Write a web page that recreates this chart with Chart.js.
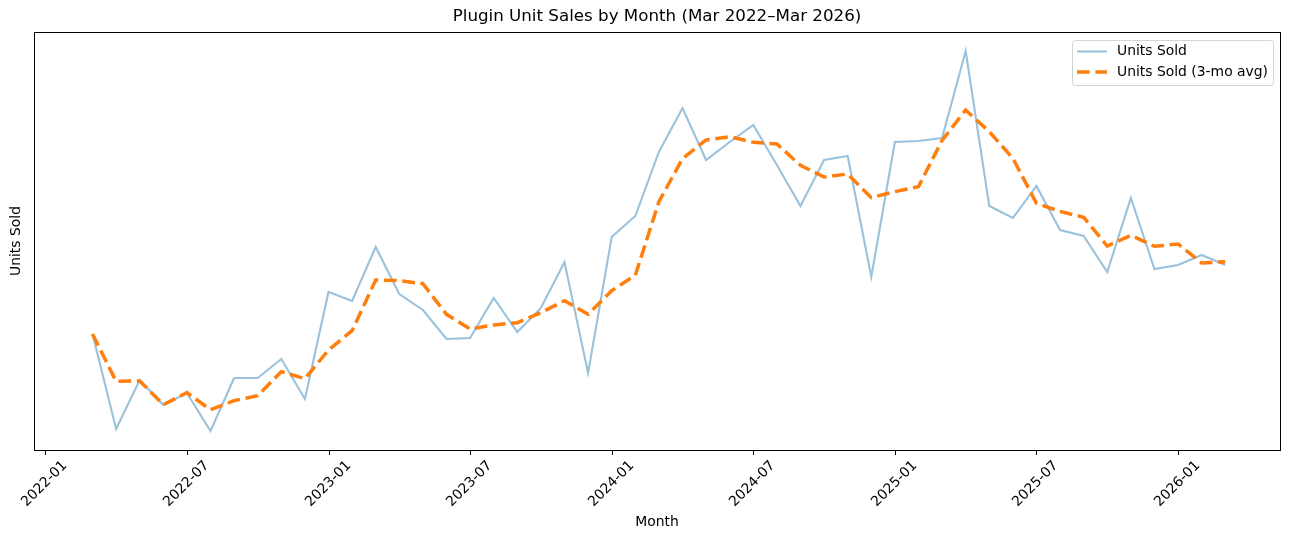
<!DOCTYPE html>
<html>
<head>
<meta charset="utf-8">
<script src="https://cdn.jsdelivr.net/npm/chart.js@4.4.1/dist/chart.umd.min.js"></script>
<style>
  html, body { margin: 0; padding: 0; background: #fff; }
  #wrap { width: 1289px; height: 540px; }
</style>
</head>
<body>
<div id="wrap"><canvas id="chart" width="1289" height="540"></canvas></div>
<script>
// months (one point per month)
var months = [
  '2022-03','2022-04','2022-05','2022-06','2022-07','2022-08','2022-09','2022-10','2022-11','2022-12',
  '2023-01','2023-02','2023-03','2023-04','2023-05','2023-06','2023-07','2023-08','2023-09','2023-10','2023-11','2023-12',
  '2024-01','2024-02','2024-03','2024-04','2024-05','2024-06','2024-07','2024-08','2024-09','2024-10','2024-11','2024-12',
  '2025-01','2025-02','2025-03','2025-04','2025-05','2025-06','2025-07','2025-08','2025-09','2025-10','2025-11','2025-12',
  '2026-01','2026-02','2026-03'
];

// monthly units sold
var unitsSold = [
  598, 313, 460, 385, 421, 307, 466, 466, 523, 403,
  724, 697, 859, 718, 670, 583, 586, 706, 604, 676, 814, 481,
  889, 952, 1144, 1276, 1120, 1174, 1225, 1105, 982, 1120, 1132, 769,
  1174, 1177, 1186, 1447, 982, 946, 1042, 910, 892, 784, 1006, 793,
  805, 835, 805
];

// 3-month average line
var unitsAvg = [
  598, 456, 457, 386, 422, 371, 398, 413, 485, 464,
  550, 608, 760, 758, 749, 657, 613, 625, 632, 662, 698, 657,
  728, 774, 995, 1124, 1180, 1190, 1173, 1168, 1104, 1069, 1078, 1007,
  1025, 1040, 1179, 1270, 1205, 1125, 990, 966, 948, 862, 894, 861,
  868, 811, 815
];

// x tick labels, every 6 months
var tickLabels = ['2022-01','2022-07','2023-01','2023-07','2024-01','2024-07','2025-01','2025-07','2026-01'];

var FONT = '"DejaVu Sans", sans-serif';

// months since 2022-01
function monthIndex(s) {
  var p = s.split('-');
  return (parseInt(p[0], 10) - 2022) * 12 + parseInt(p[1], 10) - 1;
}

function toPoints(vals) {
  return vals.map(function(v, i) { return { x: monthIndex(months[i]), y: v }; });
}

// matplotlib-like decorations: frame, ticks, labels, legend, title
var decor = {
  id: 'decor',
  afterDraw: function(chart) {
    var ctx = chart.ctx;
    var a = chart.chartArea;
    var xs = chart.scales.x;
    ctx.save();

    // frame
    ctx.strokeStyle = '#000';
    ctx.lineWidth = 1;
    ctx.strokeRect(Math.round(a.left) + 0.5, Math.round(a.top) + 0.5,
                   Math.round(a.right - a.left), Math.round(a.bottom - a.top));

    // x ticks + rotated labels
    ctx.fillStyle = '#000';
    ctx.font = '13.9px ' + FONT;
    ctx.textAlign = 'center';
    ctx.textBaseline = 'middle';
    tickLabels.forEach(function(t) {
      var px = Math.round(xs.getPixelForValue(monthIndex(t))) + 0.5;
      ctx.beginPath();
      ctx.moveTo(px, a.bottom);
      ctx.lineTo(px, a.bottom + 5);
      ctx.stroke();
      ctx.save();
      ctx.translate(px - 1, a.bottom + 34);
      ctx.rotate(-Math.PI / 4);
      ctx.fillText(t, 0, 0);
      ctx.restore();
    });

    // axis titles
    ctx.fillText('Month', (a.left + a.right) / 2, 522);
    ctx.save();
    ctx.translate(16, (a.top + a.bottom) / 2);
    ctx.rotate(-Math.PI / 2);
    ctx.fillText('Units Sold', 0, 0);
    ctx.restore();

    // title
    ctx.font = '16.7px ' + FONT;
    ctx.fillText('Plugin Unit Sales by Month (Mar 2022\u2013Mar 2026)', (a.left + a.right) / 2, 17);

    // legend
    var lx = 1072, ly = 40, lw = 201, lh = 45;
    ctx.beginPath();
    ctx.roundRect(lx + 0.5, ly + 0.5, lw, lh, 3);
    ctx.fillStyle = 'rgba(255,255,255,0.8)';
    ctx.fill();
    ctx.strokeStyle = '#d5d5d5';
    ctx.stroke();
    ctx.font = '13.9px ' + FONT;
    ctx.textAlign = 'left';
    ctx.fillStyle = '#000';
    chart.data.datasets.forEach(function(ds, i) {
      var y = i === 0 ? 51.5 : 72;
      ctx.save();
      ctx.strokeStyle = ds.borderColor;
      ctx.lineWidth = ds.borderWidth;
      ctx.setLineDash(ds.borderDash || []);
      ctx.beginPath();
      ctx.moveTo(1077, y);
      ctx.lineTo(1107, y);
      ctx.stroke();
      ctx.restore();
      ctx.fillText(ds.label, 1117, y);
    });

    ctx.restore();
  }
};

var config = {
  type: 'line',
  data: {
    datasets: [{
      label: 'Units Sold',
      data: toPoints(unitsSold),
      borderColor: 'rgba(31,119,180,0.45)',
      borderWidth: 2.1,
      pointRadius: 0,
      tension: 0,
      order: 1
    }, {
      label: 'Units Sold (3-mo avg)',
      data: toPoints(unitsAvg),
      borderColor: '#ff7f0e',
      borderWidth: 3.5,
      borderDash: [12.8, 5.6],
      pointRadius: 0,
      tension: 0,
      order: 0
    }]
  },
  options: {
    responsive: false,
    animation: false,
    devicePixelRatio: 1,
    layout: { padding: { left: 34, top: 32, right: 9, bottom: 90 } },
    scales: {
      x: { type: 'linear', display: false, min: -0.48, max: 52.32 },
      y: { type: 'linear', display: false, min: 250, max: 1504 }
    },
    plugins: {
      legend: { display: false },
      title: { display: false },
      tooltip: { enabled: false }
    }
  },
  plugins: [decor]
};

window.onload = function() {
  var ctx = document.getElementById('chart').getContext('2d');
  window.myChart = new Chart(ctx, config);
};
</script>
</body>
</html>
